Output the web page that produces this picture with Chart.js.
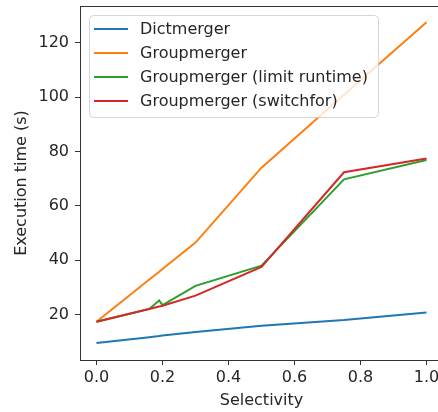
<!DOCTYPE html>
<html>
<head>
<meta charset="utf-8">
<script src="https://cdn.jsdelivr.net/npm/chart.js@4/dist/chart.umd.min.js"></script>
<style>
	body { margin: 0; background: #fff; }
	#wrap { width: 438px; height: 412px; overflow: hidden; }
</style>
</head>
<body>
<div id="wrap"><canvas id="chart" width="450" height="412"></canvas></div>
<script>
// selectivity sample points and measured times (s)
var selectivity = [0, 0.16, 0.19, 0.2, 0.3, 0.5, 0.75, 1.0];
var dictmerger = [9.5, 11.6, 12.0, 12.2, 13.5, 15.8, 17.9, 20.7];
var groupmerger = [17.3, 32.8, 35.7, 36.7, 46.4, 74.0, 100.8, 127.5];
var groupmergerLimit = [17.3, 22.0, 25.1, 23.4, 30.5, 37.9, 69.7, 76.8];
var groupmergerSwitchfor = [17.3, 22.0, 22.9, 23.2, 26.9, 37.5, 72.3, 77.4];

var xTicks = [0, 0.2, 0.4, 0.6, 0.8, 1.0];
var yTicks = [20, 40, 60, 80, 100, 120];

var seriesNames = ['Dictmerger', 'Groupmerger', 'Groupmerger (limit runtime)', 'Groupmerger (switchfor)'];
var seriesValues = [dictmerger, groupmerger, groupmergerLimit, groupmergerSwitchfor];
var seriesColors = ['#1f77b4', '#ff7f0e', '#2ca02c', '#d62728'];

var FONT = 'DejaVu Sans';
var SIZE = 16;
var INK = '#262626';

function points(values){
	return values.map(function(v, i){ return { x: selectivity[i], y: v }; });
}

var datasets = seriesNames.map(function(name, i){
	return {
		label: name,
		data: points(seriesValues[i]),
		borderColor: seriesColors[i],
		borderWidth: 2,
		pointRadius: 0,
		tension: 0,
		fill: false,
		order: seriesNames.length - i
	};
});

// top spine plus the legend box inside the plot
var frame = {
	id: 'frame',
	afterDatasetsDraw: function(chart){
		var ctx = chart.ctx, area = chart.chartArea;

		ctx.save();
		ctx.strokeStyle = '#333';
		ctx.lineWidth = 1;
		ctx.beginPath();
		ctx.moveTo(area.left, Math.round(area.top) + 0.5);
		ctx.lineTo(area.right, Math.round(area.top) + 0.5);
		ctx.stroke();

		var bx = 89.5, by = 15.5, bw = 289, bh = 102, r = 4;
		ctx.beginPath();
		ctx.roundRect(bx, by, bw, bh, r);
		ctx.fillStyle = 'rgba(255,255,255,0.8)';
		ctx.fill();
		ctx.strokeStyle = 'rgba(204,204,204,0.8)';
		ctx.stroke();

		ctx.font = SIZE + 'px "' + FONT + '"';
		ctx.textBaseline = 'middle';
		ctx.textAlign = 'left';
		chart.data.datasets.forEach(function(ds, i){
			var y = 29 + i * 24;
			ctx.strokeStyle = ds.borderColor;
			ctx.lineWidth = 2;
			ctx.beginPath();
			ctx.moveTo(94, y);
			ctx.lineTo(128, y);
			ctx.stroke();
			ctx.fillStyle = INK;
			ctx.fillText(ds.label, 140, y + 1);
		});
		ctx.restore();
	}
};

function noPadding(scale){
	scale.paddingTop = 0;
	scale.paddingBottom = 0;
	scale.paddingLeft = 0;
	scale.paddingRight = 0;
}

var chart = new Chart(document.getElementById('chart').getContext('2d'), {
	type: 'line',
	data: { datasets: datasets },
	plugins: [frame],
	options: {
		responsive: false,
		animation: false,
		layout: { padding: { left: 0, top: 6, right: 7, bottom: 0 } },
		plugins: {
			legend: { display: false },
			tooltip: { enabled: false }
		},
		scales: {
			x: {
				type: 'linear',
				min: -0.05,
				max: 1.05,
				afterBuildTicks: function(scale){
					scale.ticks = xTicks.map(function(v){ return { value: v }; });
				},
				afterFit: function(scale){
					scale.height = 52;
					noPadding(scale);
				},
				grid: { drawOnChartArea: false, color: '#333', tickLength: 5, tickWidth: 1 },
				border: { color: '#333', width: 1 },
				ticks: {
					color: INK,
					font: { family: FONT, size: SIZE },
					padding: 3,
					maxRotation: 0,
					callback: function(v){ return v.toFixed(1); }
				},
				title: {
					display: true,
					text: 'Selectivity',
					color: INK,
					font: { family: FONT, size: SIZE },
					padding: 2
				}
			},
			y: {
				type: 'linear',
				min: 3.2,
				max: 133.5,
				afterBuildTicks: function(scale){
					scale.ticks = yTicks.map(function(v){ return { value: v }; });
				},
				afterFit: function(scale){
					scale.width = 80;
					noPadding(scale);
				},
				grid: { drawOnChartArea: false, color: '#333', tickLength: 5, tickWidth: 1 },
				border: { color: '#333', width: 1 },
				ticks: {
					color: INK,
					font: { family: FONT, size: SIZE },
					padding: 6
				},
				title: {
					display: true,
					text: 'Execution time (s)',
					color: INK,
					font: { family: FONT, size: SIZE },
					padding: 12
				}
			}
		}
	}
});
</script>
</body>
</html>
